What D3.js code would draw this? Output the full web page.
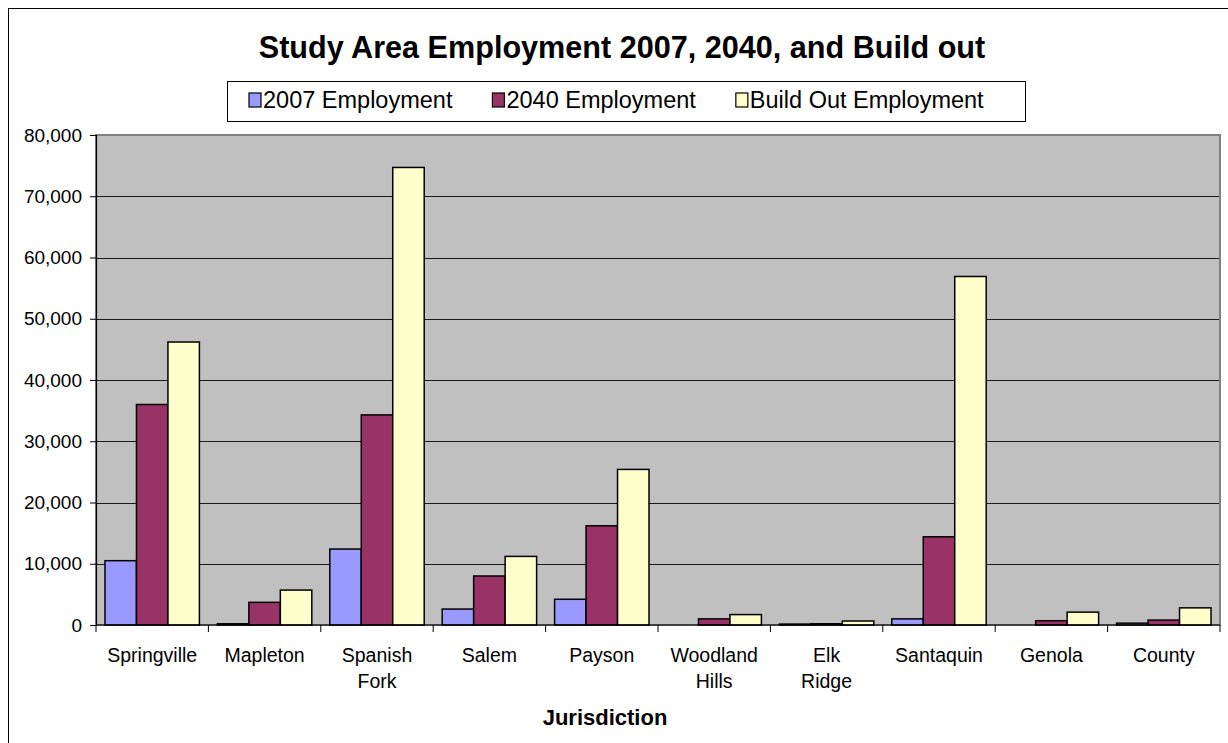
<!DOCTYPE html>
<html>
<head>
<meta charset="utf-8">
<script src="https://cdn.jsdelivr.net/npm/d3@7"></script>
<style>
  html, body { margin: 0; padding: 0; background: #fff; }
  svg { display: block; font-family: "Liberation Sans", Arial, sans-serif; }
</style>
</head>
<body>
<svg id="chart" width="1228" height="743"></svg>
<script>
// ---- data ----
const categories = ["Springville", "Mapleton", "Spanish Fork", "Salem", "Payson",
  "Woodland Hills", "Elk Ridge", "Santaquin", "Genola", "County"];
const seriesNames = ["2007 Employment", "2040 Employment", "Build Out Employment"];
const emp2007 = [10500, 200, 12400, 2600, 4200, 0, 150, 1000, 0, 300];
const emp2040 = [36000, 3700, 34300, 8000, 16200, 1000, 200, 14400, 700, 800];
const empBuildOut = [46200, 5700, 74700, 11200, 25400, 1700, 650, 56900, 2100, 2800];
const yTicks = [0, 10000, 20000, 30000, 40000, 50000, 60000, 70000, 80000];
const colors = ["#9999FF", "#993366", "#FFFFCC"];

const seriesValues = [emp2007, emp2040, empBuildOut];

// ---- layout ----
const svg = d3.select("#chart");
const W = 1228, H = 743;
const plot = { left: 96, right: 1220, top: 135, bottom: 625 };

// outer chart border
svg.append("rect")
  .attr("x", 8.5).attr("y", 8.5)
  .attr("width", W + 20).attr("height", H + 20)
  .attr("fill", "#fff").attr("stroke", "#000").attr("stroke-width", 1);

// title
svg.append("text")
  .attr("x", 622).attr("y", 58)
  .attr("text-anchor", "middle")
  .attr("font-size", 30.6).attr("font-weight", "bold")
  .attr("fill", "#000")
  .text("Study Area Employment 2007, 2040, and Build out");

// scales
const x0 = d3.scaleBand().domain(categories).range([plot.left, plot.right]).padding(0);
const gapFrac = 0.16;
const x1 = d3.scaleBand().domain(seriesNames)
  .range([x0.bandwidth() * gapFrac / 2, x0.bandwidth() * (1 - gapFrac / 2)]).padding(0);
const y = d3.scaleLinear().domain([0, 80000]).range([plot.bottom, plot.top]);

// plot area background
svg.append("rect")
  .attr("x", plot.left).attr("y", plot.top)
  .attr("width", plot.right - plot.left).attr("height", plot.bottom - plot.top)
  .attr("fill", "#C0C0C0");

// gridlines
svg.append("g")
  .selectAll("line")
  .data(yTicks.filter(t => t > 0 && t < 80000))
  .join("line")
  .attr("x1", plot.left).attr("x2", plot.right)
  .attr("y1", d => Math.round(y(d)) + 0.5).attr("y2", d => Math.round(y(d)) + 0.5)
  .attr("stroke", "#1a1a1a").attr("stroke-width", 1.2);

// plot area border (gray)
svg.append("rect")
  .attr("x", plot.left).attr("y", plot.top)
  .attr("width", plot.right - plot.left).attr("height", plot.bottom - plot.top)
  .attr("fill", "none").attr("stroke", "#808080").attr("stroke-width", 2);

// bars
const groups = svg.append("g")
  .selectAll("g")
  .data(categories)
  .join("g")
  .attr("transform", d => `translate(${x0(d)},0)`);

groups.selectAll("rect")
  .data((c, i) => seriesNames.map((s, k) => ({ s, k, v: seriesValues[k][i] })))
  .join("rect")
  .filter(d => d.v > 0)
  .attr("x", d => x1(d.s))
  .attr("y", d => y(d.v))
  .attr("width", x1.bandwidth())
  .attr("height", d => y(0) - y(d.v))
  .attr("fill", d => colors[d.k])
  .attr("stroke", "#000")
  .attr("stroke-width", 1.5);

// y axis
const yAxis = d3.axisLeft(y).tickValues(yTicks).tickFormat(d3.format(",")).tickSize(6).tickPadding(8);
const gy = svg.append("g").attr("transform", `translate(${plot.left},0)`).call(yAxis);
gy.select(".domain").attr("stroke", "#000").attr("stroke-width", 1.2);
gy.selectAll(".tick line").attr("stroke", "#000");
gy.selectAll(".tick text")
  .attr("font-size", 19).attr("font-family", "Liberation Sans, Arial, sans-serif")
  .attr("fill", "#000");

// x axis baseline and ticks at category boundaries
svg.append("line")
  .attr("x1", plot.left).attr("x2", plot.right)
  .attr("y1", plot.bottom).attr("y2", plot.bottom)
  .attr("stroke", "#000").attr("stroke-width", 1.2);
const boundaries = categories.map(c => x0(c)).concat([plot.right]);
svg.append("g").selectAll("line")
  .data(boundaries)
  .join("line")
  .attr("x1", d => d).attr("x2", d => d)
  .attr("y1", plot.bottom).attr("y2", plot.bottom + 7)
  .attr("stroke", "#000").attr("stroke-width", 1);

// x labels
const xl = svg.append("g").selectAll("text")
  .data(categories)
  .join("text")
  .attr("x", d => x0(d) + x0.bandwidth() / 2)
  .attr("y", 662)
  .attr("text-anchor", "middle")
  .attr("font-size", 19.5)
  .attr("fill", "#000");
xl.each(function(d) {
  const parts = d.split(" ");
  const t = d3.select(this);
  parts.forEach((p, i) => {
    t.append("tspan").attr("x", x0(d) + x0.bandwidth() / 2)
      .attr("dy", i === 0 ? 0 : 26).text(p);
  });
});

// x axis title
svg.append("text")
  .attr("x", 605).attr("y", 725)
  .attr("text-anchor", "middle")
  .attr("font-size", 22).attr("font-weight", "bold")
  .text("Jurisdiction");

// legend
const legend = svg.append("g");
const legBox = legend.append("rect")
  .attr("fill", "#fff").attr("stroke", "#000").attr("stroke-width", 1);
let lx = 249;
const ly = 100;
seriesNames.forEach((s, k) => {
  legend.append("rect")
    .attr("x", lx).attr("y", ly - 7)
    .attr("width", 12).attr("height", 14)
    .attr("fill", colors[k]).attr("stroke", "#000").attr("stroke-width", 1.2);
  const t = legend.append("text")
    .attr("x", lx + 14).attr("y", ly + 8)
    .attr("font-size", 23.5).attr("fill", "#000")
    .text(s);
  lx = lx + 14 + t.node().getComputedTextLength() + 40;
});
legBox.attr("x", 227.5).attr("y", 81.5).attr("width", 798).attr("height", 40);
</script>
</body>
</html>
